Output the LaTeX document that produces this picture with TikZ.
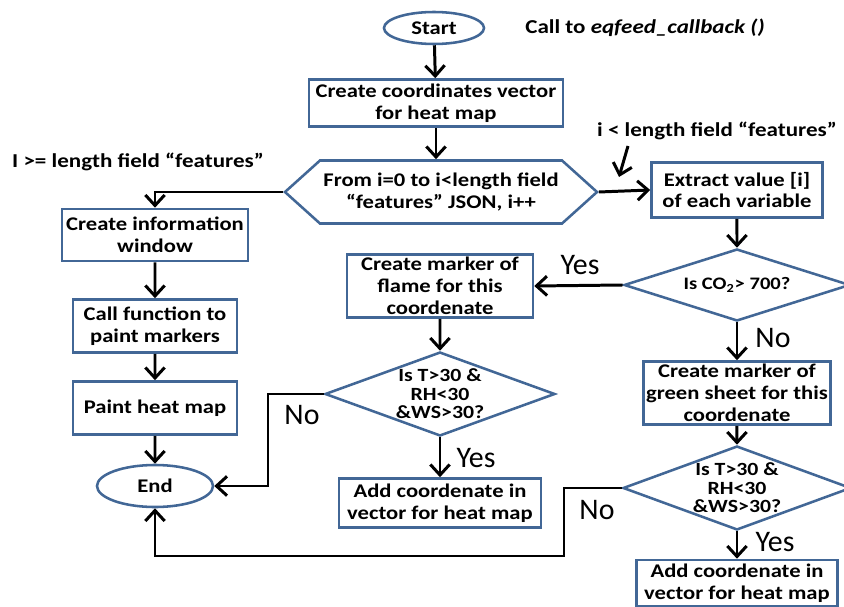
\documentclass[tikz,border=0pt]{standalone}
\usepackage{fontspec}
\setmainfont{Carlito}[FakeStretch=1.17]
\newfontfamily\ansfont{Carlito}
\usetikzlibrary{shapes.geometric,shapes.symbols,arrows.meta}
\definecolor{boxblue}{RGB}{66,103,150}
\tikzset{
  stepbox/.style={draw=boxblue, line width=1.45pt, rectangle, align=center, inner sep=0pt,
    font=\fontsize{11}{12.5}\selectfont\bfseries},
  term/.style={draw=boxblue, line width=1.45pt, ellipse, inner sep=0pt,
    font=\fontsize{11}{12.5}\selectfont\bfseries},
  cond/.style={draw=boxblue, line width=1.45pt, diamond, inner sep=0pt},
  condtext/.style={align=center, inner sep=0pt, font=\fontsize{10.6}{10.6}\selectfont\bfseries},
  cotext/.style={align=center, inner sep=0pt, font=\fontsize{10}{11}\selectfont\bfseries},
  loophex/.style={draw=boxblue, line width=1.45pt, signal, signal to=west and east,
    signal pointer angle=84, align=center, inner sep=0pt,
    font=\fontsize{11}{12.5}\selectfont\bfseries},
  note/.style={inner sep=0pt, font=\fontsize{11.2}{12.5}\selectfont\bfseries},
  ans/.style={inner sep=0pt, font=\ansfont\fontsize{17}{17}\selectfont},
  flow/.style={line width=1.7pt, -{Straight Barb[length=6pt,width=11pt]}}
}
\begin{document}
\begin{tikzpicture}[scale=0.2]
\useasboundingbox (0,0) rectangle (84.4,-60.7);
% main column
\node [term, minimum width=2cm, minimum height=0.64cm] (start) at (43.4,-2.8) {Start};
\node [note, anchor=west] (calltxt) at (52.5,-2.8) {Call to \textit{eqfeed\_callback ()}};
\node [stepbox, minimum width=5.08cm, minimum height=0.94cm] (vec) at (43.6,-10.3) {Create coordinates vector\\for heat map};
\node [loophex, minimum width=6.24cm, minimum height=1.26cm] (loop) at (44.1,-19.2) {From i=0 to i<length field\\“features” JSON, i++};
\node [note] (ltlbl) at (71.7,-13.1) {i < length field “features”};
\node [note] (gelbl) at (13.8,-16.2) {I >= length field “features”};
\coordinate (itail) at (62.8,-14.6);
\coordinate (ihead) at (61.9,-17.7);
% left column
\node [stepbox, minimum width=3.72cm, minimum height=1.04cm] (info) at (15.5,-23.5) {Create information\\window};
\node [stepbox, minimum width=3.28cm, minimum height=1.06cm] (callfn) at (15.5,-32.6) {Call function to\\paint markers};
\node [stepbox, minimum width=3.28cm, minimum height=1.06cm] (paint) at (15.5,-40.8) {Paint heat map};
\node [term, minimum width=2.32cm, minimum height=0.84cm] (end) at (15.5,-48.6) {End};
% right column
\node [stepbox, minimum width=3.42cm, minimum height=1.1cm] (extract) at (73.7,-19.0) {Extract value [i]\\of each variable};
\node [cond, minimum width=4.52cm, minimum height=1.44cm,
  label={[cotext]center:Is CO\textsubscript{2}> 700?}] (co2) at (73.7,-28.5) {};
\node [stepbox, minimum width=3.74cm, minimum height=1.26cm] (green) at (73.7,-39.3) {Create marker of\\green sheet for this\\coordenate};
\node [cond, minimum width=4.56cm, minimum height=1.68cm,
  label={[condtext]center:Is T>30 \&\\RH<30\\\&WS>30?}] (chk2) at (73.7,-48.8) {};
\node [stepbox, minimum width=4.02cm, minimum height=0.92cm] (add2) at (73.7,-58.3) {Add coordenate in\\vector for heat map};
% middle column
\node [stepbox, minimum width=3.72cm, minimum height=1.26cm] (flame) at (44,-28.6) {Create marker of\\flame for this\\coordenate};
\node [cond, minimum width=4.6cm, minimum height=1.68cm,
  label={[condtext]center:Is T>30 \&\\RH<30\\\&WS>30?}] (chk1) at (44,-39.4) {};
\node [stepbox, minimum width=4.04cm, minimum height=0.98cm] (add1) at (44,-50.3) {Add coordenate in\\vector for heat map};
\coordinate (nobend1) at (26.8,-39.4);
\coordinate (nobend2) at (56.4,-48.8);
\coordinate (nobase) at (56.4,-55.6);
% connectors
\draw [flow] (start) -- (vec);
\draw [flow] (vec.south) -- (vec.south |- loop.north);
\draw [flow] (loop.east) -- (extract.west);
\draw [flow] (itail) -- (ihead);
\draw [flow] (loop.west) -| (info.north);
\draw [flow] (info) -- (callfn);
\draw [flow] (callfn) -- (paint);
\draw [flow] (paint) -- (end);
\draw [flow] (extract) -- (co2);
\draw [flow] (co2.west) -- (flame.east);
\draw [flow] (co2.south) -- (green.north);
\draw [flow] (flame) -- (chk1);
\draw [flow] (chk1.south) -- (add1.north);
\draw [flow] (chk1.west) -- (nobend1) |- (end.east);
\draw [flow] (green) -- (chk2);
\draw [flow] (chk2.south) -- (add2.north);
\draw [flow] (chk2.west) -- (nobend2) -- (nobase) -| (end.south);
% answers
\node [ans] (yes1) at (58,-26.5) {Yes};
\node [ans] (no1) at (77.3,-33.8) {No};
\node [ans] (no2) at (30.2,-41.5) {No};
\node [ans] (yes2) at (47.6,-45.8) {Yes};
\node [ans] (no3) at (59.7,-51.0) {No};
\node [ans] (yes3) at (77.5,-54.2) {Yes};
\end{tikzpicture}
\end{document}
